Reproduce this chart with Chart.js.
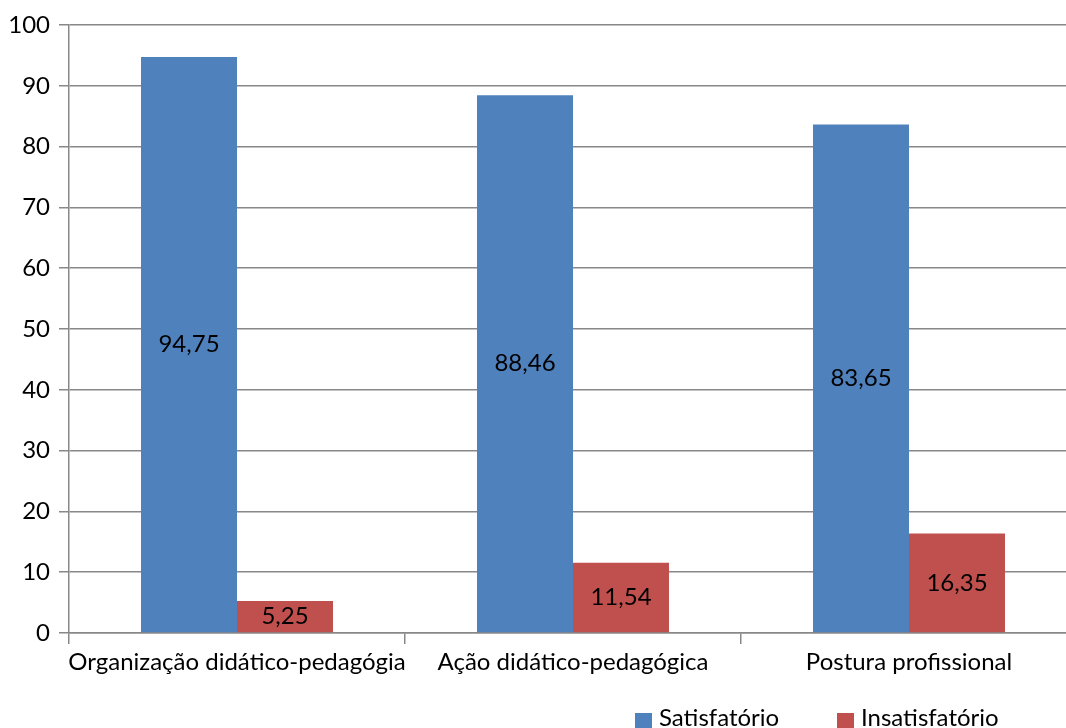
<!DOCTYPE html>
<html>
<head>
<meta charset="utf-8">
<script src="https://cdn.jsdelivr.net/npm/chart.js@4.4.0/dist/chart.umd.min.js"></script>
<style>
html,body{margin:0;padding:0;background:#fff;overflow:hidden;}
#wrap{width:1066px;height:728px;overflow:hidden;position:relative;}
canvas{display:block;}
</style>
</head>
<body>
<div id="wrap"><canvas id="c" width="1090" height="728" style="width:1090px;height:728px"></canvas></div>
<script>
const categories = ["Organização didático-pedagógia", "Ação didático-pedagógica", "Postura profissional"];
const satisfatorio = [94.75, 88.46, 83.65];
const insatisfatorio = [5.25, 11.54, 16.35];
const seriesNames = ["Satisfatório", "Insatisfatório"];
const seriesColors = ["#4F81BD", "#C0504D"];
const yTicks = [0, 10, 20, 30, 40, 50, 60, 70, 80, 90, 100];

const FONT = "Lato";
const FS = 24;
const fmt = v => v.toFixed(2).replace('.', ',');

const valueLabels = {
  id: 'valueLabels',
  afterDatasetsDraw(chart) {
    const ctx = chart.ctx;
    ctx.save();
    ctx.font = FS + "px " + FONT;
    ctx.fillStyle = "#000";
    ctx.textAlign = "center";
    ctx.textBaseline = "middle";
    chart.data.datasets.forEach((ds, di) => {
      const meta = chart.getDatasetMeta(di);
      meta.data.forEach((el, i) => {
        const p = el.getProps(['x', 'y', 'base'], true);
        ctx.fillText(fmt(ds.data[i]), p.x, (p.y + p.base) / 2);
      });
    });
    ctx.restore();
  }
};

const customLegend = {
  id: 'customLegend',
  afterDraw(chart) {
    const ctx = chart.ctx;
    ctx.save();
    ctx.font = FS + "px " + FONT;
    ctx.textBaseline = "alphabetic";
    ctx.textAlign = "left";
    const starts = [635, 837];
    chart.data.datasets.forEach((ds, di) => {
      const x = starts[di];
      ctx.fillStyle = ds.backgroundColor;
      ctx.fillRect(x, 713, 17, 17);
      ctx.fillStyle = "#000";
      ctx.fillText(ds.label, x + 24, 726);
    });
    ctx.restore();
  }
};

new Chart(document.getElementById('c'), {
  type: 'bar',
  data: {
    labels: categories,
    datasets: [
      { label: seriesNames[0], data: satisfatorio, backgroundColor: seriesColors[0] },
      { label: seriesNames[1], data: insatisfatorio, backgroundColor: seriesColors[1] }
    ]
  },
  options: {
    responsive: false,
    animation: false,
    devicePixelRatio: 1,
    layout: { padding: { top: 25, right: 13, left: 0, bottom: 0 } },
    datasets: { bar: { categoryPercentage: 0.5714, barPercentage: 1.0 } },
    plugins: { legend: { display: false }, tooltip: { enabled: false } },
    scales: {
      x: {
        afterFit(s) { s.height = 95; },
        grid: { offset: true, drawOnChartArea: false, tickLength: 11, color: '#888', lineWidth: 1.5 },
        border: { color: '#888', width: 1.5 },
        ticks: { font: { family: FONT, size: FS }, color: '#000', padding: 4, maxRotation: 0, autoSkip: false }
      },
      y: {
        min: 0, max: 100,
        afterFit(s) { s.width = 69; },
        afterBuildTicks(s) { s.ticks = yTicks.map(v => ({ value: v })); },
        grid: { color: '#888', lineWidth: 1.5, tickLength: 10 },
        border: { color: '#888', width: 1.5 },
        ticks: { font: { family: FONT, size: FS }, color: '#000', padding: 9 }
      }
    }
  },
  plugins: [valueLabels, customLegend]
});
</script>
</body>
</html>
